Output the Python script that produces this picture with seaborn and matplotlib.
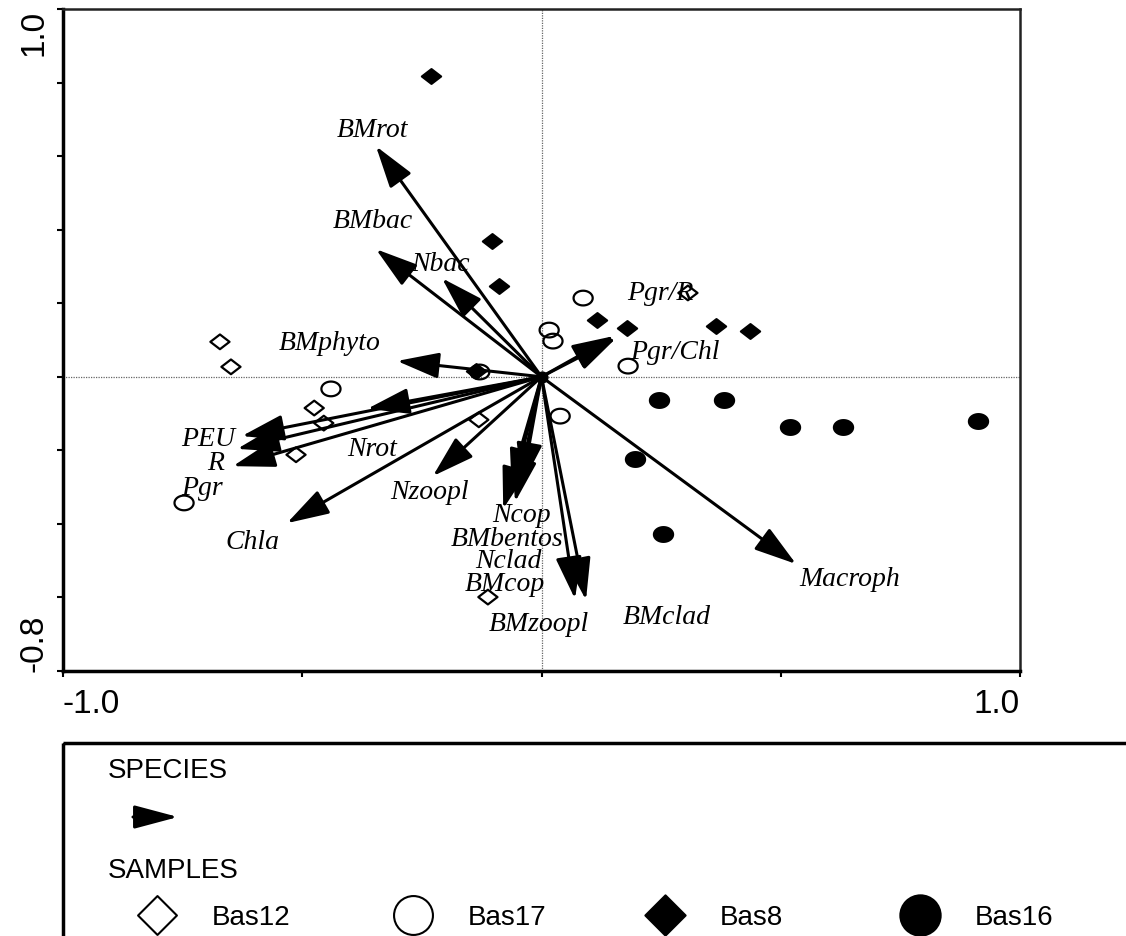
import numpy as np
import pandas as pd
import matplotlib
matplotlib.use("Agg")
import matplotlib.pyplot as plt
from matplotlib.path import Path
from matplotlib.patches import Rectangle
import seaborn as sns

# ---- sample scores on the first two ordination axes ----
bas12_x = [-0.672, -0.649, -0.475, -0.455, -0.513, -0.131, -0.112, 0.306]
bas12_y = [0.095, 0.027, -0.085, -0.126, -0.212, -0.117, -0.599, 0.228]
bas17_x = [-0.440, -0.747, -0.129, 0.087, 0.016, 0.024, 0.181, 0.039]
bas17_y = [-0.033, -0.343, 0.013, 0.214, 0.127, 0.097, 0.029, -0.107]
bas8_x = [-0.231, -0.103, -0.089, 0.116, 0.179, 0.365, 0.436, -0.137]
bas8_y = [0.818, 0.369, 0.247, 0.155, 0.133, 0.138, 0.125, 0.016]
bas16_x = [0.246, 0.381, 0.519, 0.630, 0.912, 0.195, 0.254]
bas16_y = [-0.063, -0.063, -0.136, -0.136, -0.120, -0.223, -0.427]

# ---- species (variable) arrows: tip coordinates ----
species = ["BMrot", "BMbac", "Nbac", "BMphyto", "Nrot", "PEU", "R", "Pgr",
           "Chla", "Nzoopl", "Ncop", "BMbentos", "Nclad", "BMcop",
           "BMzoopl", "BMclad", "Macroph", "Pgr/R", "Pgr/Chl"]
species_x = [-0.346, -0.346, -0.208, -0.302, -0.364, -0.626, -0.636, -0.645,
             -0.532, -0.227, -0.080, -0.055, -0.062, -0.041,
             0.070, 0.093, 0.532, 0.152, 0.156]
species_y = [0.627, 0.347, 0.268, 0.043, -0.087, -0.161, -0.196, -0.243,
             -0.398, -0.270, -0.359, -0.340, -0.310, -0.294,
             -0.604, -0.607, -0.509, 0.111, 0.105]
# label anchor points for the species names
label_x = [-0.354, -0.352, -0.210, -0.442, -0.354, -0.697, -0.682, -0.709,
           -0.605, -0.233, -0.042, -0.072, -0.070, -0.076,
           -0.005, 0.262, 0.645, 0.248, 0.279]
label_y = [0.671, 0.426, 0.307, 0.092, -0.194, -0.169, -0.232, -0.300,
           -0.449, -0.313, -0.374, -0.439, -0.500, -0.562,
           -0.672, -0.653, -0.549, 0.228, 0.068]

x_ticks = [-1.0, -0.5, 0.0, 0.5, 1.0]
x_ticklabels = ["-1.0", "", "", "", "1.0"]
y_ticks = [-0.8, -0.6, -0.4, -0.2, 0.0, 0.2, 0.4, 0.6, 0.8, 1.0]
y_ticklabels = ["-0.8", "", "", "", "", "", "", "", "", "1.0"]

samples = pd.concat([
    pd.DataFrame({"ax1": bas12_x, "ax2": bas12_y, "site": "Bas12"}),
    pd.DataFrame({"ax1": bas17_x, "ax2": bas17_y, "site": "Bas17"}),
    pd.DataFrame({"ax1": bas8_x, "ax2": bas8_y, "site": "Bas8"}),
    pd.DataFrame({"ax1": bas16_x, "ax2": bas16_y, "site": "Bas16"}),
], ignore_index=True)

sns.set_style("white")
plt.rcParams["font.family"] = ["Liberation Sans", "DejaVu Sans"]
plt.rcParams["text.color"] = "black"
plt.rcParams["xtick.color"] = "black"
plt.rcParams["ytick.color"] = "black"
plt.rcParams["xtick.labelcolor"] = "black"
plt.rcParams["ytick.labelcolor"] = "black"

# slightly squat marker shapes for the sample points
t = np.linspace(0, 2 * np.pi, 41)
ellipse = Path(np.column_stack([1.3 * np.cos(t), np.sin(t)]), closed=True)
diamond = Path([(-1.3, 0), (0, 1), (1.3, 0), (0, -1), (-1.3, 0)], closed=True)
key_diamond = Path([(-1, 0), (0, 1), (1, 0), (0, -1), (-1, 0)], closed=True)

styles = {
    "Bas12": dict(marker=diamond, facecolor="none"),
    "Bas17": dict(marker=ellipse, facecolor="none"),
    "Bas8": dict(marker=diamond, facecolor="black"),
    "Bas16": dict(marker=ellipse, facecolor="black"),
}

W, H = 1126, 937
fig = plt.figure(figsize=(W / 100, H / 100), dpi=100)
ax = fig.add_axes([63 / W, 1 - 672 / H, (1020 - 63) / W, (672 - 10) / H])

ax.axhline(0, color="#666666", lw=0.9, ls=(0, (1, 1)), zorder=1)
ax.axvline(0, color="#666666", lw=0.9, ls=(0, (1, 1)), zorder=1)

for site, st in styles.items():
    sub = samples[samples["site"] == site]
    sns.scatterplot(data=sub, x="ax1", y="ax2", ax=ax, marker=st["marker"],
                    s=190, facecolor=st["facecolor"], edgecolor="black",
                    linewidth=1.6, zorder=3, legend=False)

arrow_style = "-|>,head_length=2.6,head_width=0.8"
for name, sx, sy, lx, ly in zip(species, species_x, species_y, label_x, label_y):
    ax.annotate("", xy=(sx, sy), xytext=(0, 0),
                arrowprops=dict(arrowstyle=arrow_style, mutation_scale=10,
                                lw=2.2, color="black", shrinkA=0, shrinkB=0),
                zorder=4)
    ax.text(lx, ly, name, ha="center", va="center", fontsize=20,
            family="Liberation Serif", style="italic", color="black", zorder=5)
ax.scatter([0], [0], s=60, color="black", zorder=5)

ax.set_xlim(-1.0, 1.0)
ax.set_ylim(-0.8, 1.0)
ax.set_xlabel("")
ax.set_ylabel("")
ax.set_xticks(x_ticks)
ax.set_xticklabels(x_ticklabels, fontsize=24)
ax.set_yticks(y_ticks)
ax.set_yticklabels(y_ticklabels, fontsize=24)
ax.tick_params(axis="both", direction="out", length=4, width=1.5,
               color="black", labelcolor="black",
               bottom=True, left=True, top=False, right=False)
ax.tick_params(axis="x", pad=8)
ax.tick_params(axis="y", pad=6)
xl = ax.get_xticklabels()
xl[0].set_ha("left")
xl[-1].set_ha("right")
for lab in ax.get_yticklabels():
    lab.set_rotation(90)
yl = ax.get_yticklabels()
yl[0].set_va("bottom")
yl[-1].set_va("top")

for side in ["left", "bottom"]:
    ax.spines[side].set_linewidth(2.5)
    ax.spines[side].set_color("black")
for side in ["top", "right"]:
    ax.spines[side].set_linewidth(1.8)
    ax.spines[side].set_color("#222222")

# ---- key below the plot ----
lax = fig.add_axes([0, 0, 1, 1])
lax.set_xlim(0, W)
lax.set_ylim(H, 0)
lax.axis("off")
lax.patch.set_visible(False)
lax.add_patch(Rectangle((63, 744), 2000, 500, fill=False, lw=2.5,
                        edgecolor="black"))
lax.text(108, 771, "SPECIES", fontsize=20, ha="left", va="center")
lax.annotate("", xy=(178, 818), xytext=(133, 818),
             arrowprops=dict(arrowstyle="-|>,head_length=2.7,head_width=0.72",
                             mutation_scale=10, lw=2.2, color="black",
                             shrinkA=0, shrinkB=0))
lax.text(108, 871, "SAMPLES", fontsize=20, ha="left", va="center")

key_marker_x = [157, 413, 665, 920]
key_markers = {
    "Bas12": (key_diamond, "none"),
    "Bas17": ("o", "none"),
    "Bas8": (key_diamond, "black"),
    "Bas16": ("o", "black"),
}
for mx, (site, (mk, fc)) in zip(key_marker_x, key_markers.items()):
    ms = 29 if fc == "black" else 28
    lax.plot([mx], [916], marker=mk, ms=ms, markerfacecolor=fc,
             markeredgecolor="black", markeredgewidth=1.5, ls="none")
    lax.text(mx + 55, 918, site, fontsize=20, ha="left", va="center")

fig.savefig("out.png", dpi=100)
